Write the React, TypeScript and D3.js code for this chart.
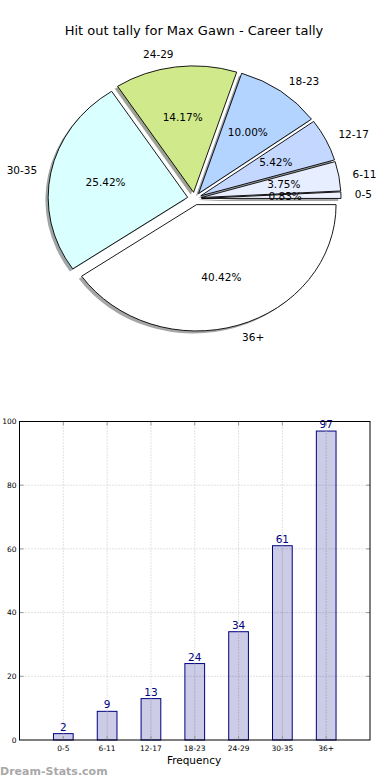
import * as d3 from 'd3';

const categories = ['0-5', '6-11', '12-17', '18-23', '24-29', '30-35', '36+'];
const counts = [2, 9, 13, 24, 34, 61, 97];
const sliceColors = ['#eef2ff', '#e6eeff', '#c4d8ff', '#b3d4ff', '#d0ea8b', '#d9ffff', '#ffffff'];
const yTicks = [0, 20, 40, 60, 80, 100];

const W = 390;
const H = 780;
const FONT = 'DejaVu Sans, sans-serif';

// pie geometry (matplotlib pie without equal aspect -> ellipse)
const cx = 194.5;
const cy = 198.6;
const rx = 139.5;
const ry = 126.4;
const explode = 0.05;

// bar axes box
const bx0 = 19.5;
const bx1 = 370;
const by0 = 421.5;
const by1 = 740;

const App = () => {
  const total = d3.sum(counts);
  const pie = d3.pie<number>()
    .sort(null)
    .startAngle(Math.PI / 2)
    .endAngle(Math.PI / 2 - 2 * Math.PI);
  const arcs = pie(counts);
  const arc = d3.arc<d3.PieArcDatum<number>>().innerRadius(0).outerRadius(1);

  const wedges = arcs.map((a, i) => {
    const mid = (a.startAngle + a.endAngle) / 2;
    const ux = Math.sin(mid);
    const uy = -Math.cos(mid);
    return { a, i, ux, uy };
  });

  const x = d3.scaleLinear().domain([-1, 7]).range([bx0, bx1]);
  const y = d3.scaleLinear().domain([0, 100]).range([by1, by0]);
  const barW = x(0.45) - x(0);

  return (
    <svg width={W} height={H} style={{ position: 'absolute', left: 0, top: 0, background: '#fff' }}>
      <rect width={W} height={H} fill="#fff" />
      <text x={194} y={35} textAnchor="middle" fontFamily={FONT} fontSize={13}>
        Hit out tally for Max Gawn - Career tally
      </text>

      {/* shadows first */}
      <g transform={`translate(${cx},${cy}) scale(${rx},${ry})`}>
        {wedges.map(({ a, i, ux, uy }) => {
          const c = d3.rgb(sliceColors[i]);
          const sc = d3.rgb(c.r * 0.3, c.g * 0.3, c.b * 0.3);
          return (
            <path
              key={'s' + i}
              d={arc(a) || ''}
              transform={`translate(${ux * explode - 0.02},${uy * explode + 0.02})`}
              fill={sc.toString()}
              fillOpacity={0.5}
            />
          );
        })}
        {wedges.map(({ a, i, ux, uy }) => (
          <path
            key={'w' + i}
            d={arc(a) || ''}
            transform={`translate(${ux * explode},${uy * explode})`}
            fill={sliceColors[i]}
            stroke="#000"
            strokeWidth={0.9}
            vectorEffect="non-scaling-stroke"
          />
        ))}
      </g>

      {wedges.map(({ a, i, ux, uy }) => {
        const lx = cx + (explode + 1.1) * rx * ux;
        const ly = cy + (explode + 1.1) * ry * uy;
        const px = cx + (explode + 0.6) * rx * ux;
        const py = cy + (explode + 0.6) * ry * uy;
        return (
          <g key={'l' + i} fontFamily={FONT} fontSize={10.5}>
            <text x={lx} y={ly} dy="0.35em" textAnchor={ux > 0 ? 'start' : 'end'}>
              {categories[i]}
            </text>
            <text x={px} y={py} dy="0.35em" textAnchor="middle">
              {((a.value / total) * 100).toFixed(2)}%
            </text>
          </g>
        );
      })}

      {/* bar chart */}
      <g>
        {yTicks.filter(t => t > 0 && t < 100).map(t => (
          <line key={'gy' + t} x1={bx0} x2={bx1} y1={y(t)} y2={y(t)} stroke="#c4c4c4" strokeWidth={1} strokeDasharray="1,2" />
        ))}
        {categories.map((c, i) => (
          <line key={'gx' + c} x1={x(i)} x2={x(i)} y1={by0} y2={by1} stroke="#c4c4c4" strokeWidth={1} strokeDasharray="1,2" />
        ))}
        {counts.map((v, i) => (
          <g key={'b' + i}>
            <rect
              x={x(i) - barW / 2}
              y={y(v)}
              width={barW}
              height={y(0) - y(v)}
              fill="#000080"
              fillOpacity={0.2}
              stroke="#000080"
              strokeWidth={1}
            />
            <text x={x(i)} y={y(v) - 3} textAnchor="middle" fontFamily={FONT} fontSize={10.5} fill="#000080">
              {v}
            </text>
          </g>
        ))}
        {/* redraw grid over bars like matplotlib's dotted grid */}
        {categories.map((c, i) => (
          <line key={'gx2' + c} x1={x(i)} x2={x(i)} y1={y(counts[i])} y2={by1} stroke="#b4b4c8" strokeWidth={1} strokeDasharray="1,2" />
        ))}
        {yTicks.filter(t => t > 0 && t < 100).map(t => (
          <g key={'tk' + t}>
            <line x1={bx0} x2={bx0 + 4} y1={y(t)} y2={y(t)} stroke="#999" />
            <line x1={bx1 - 4} x2={bx1} y1={y(t)} y2={y(t)} stroke="#999" />
          </g>
        ))}
        {categories.map((c, i) => (
          <g key={'tx' + c}>
            <line x1={x(i)} x2={x(i)} y1={by0} y2={by0 + 4} stroke="#999" />
            <line x1={x(i)} x2={x(i)} y1={by1 - 4} y2={by1} stroke="#999" />
          </g>
        ))}
        <rect x={bx0} y={by0} width={bx1 - bx0} height={by1 - by0} fill="none" stroke="#000" strokeWidth={1} />
        {yTicks.map(t => (
          <text key={'yl' + t} x={bx0 - 3} y={y(t)} dy="0.35em" textAnchor="end" fontFamily={FONT} fontSize={7.5}>
            {t}
          </text>
        ))}
        {categories.map((c, i) => (
          <text key={'xl' + c} x={x(i)} y={by1 + 10.5} textAnchor="middle" fontFamily={FONT} fontSize={7.5}>
            {c}
          </text>
        ))}
        <text x={194} y={by1 + 24} textAnchor="middle" fontFamily={FONT} fontSize={10.5}>
          Frequency
        </text>
      </g>

      <text x={0} y={775} fontFamily={FONT} fontSize={11} fontWeight="bold" fill="#a8a8a8">
        Dream-Stats.com
      </text>
    </svg>
  );
};

export default App;
